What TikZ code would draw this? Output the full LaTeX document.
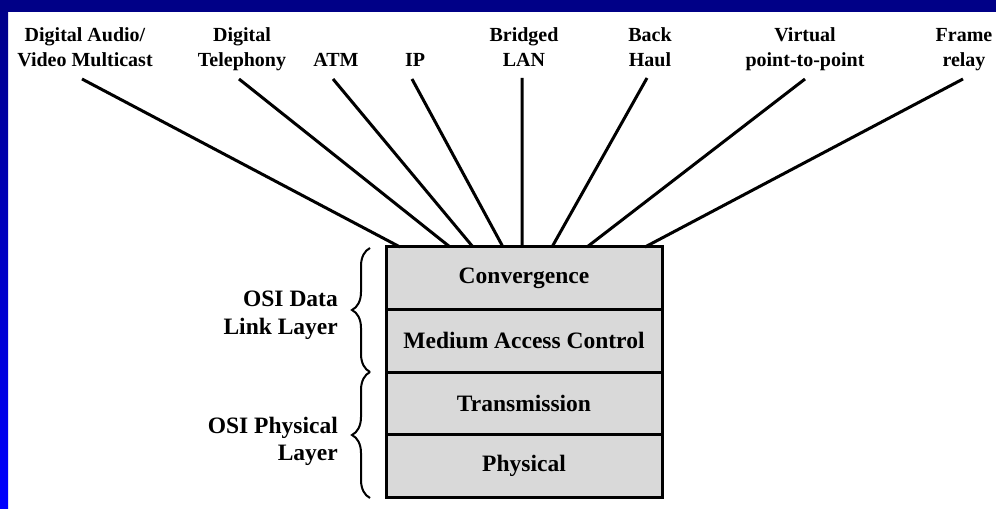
\documentclass[tikz,border=0pt]{standalone}
\usepackage{fontspec}
\setmainfont{Liberation Serif}
\usetikzlibrary{calc,decorations.pathreplacing}
\definecolor{bandnavy}{RGB}{0,0,135}
\definecolor{bandblue}{RGB}{0,0,255}
\definecolor{layergray}{RGB}{217,217,217}
\begin{document}
\begin{tikzpicture}[x=1bp,y=-1bp,
  toplab/.style={font=\fontsize{20bp}{25bp}\selectfont\bfseries, inner sep=0pt, anchor=base},
  sidelab/.style={font=\fontsize{23.5bp}{28bp}\selectfont\bfseries, inner sep=0pt, anchor=base east},
  layer/.style={draw, line width=3bp, fill=layergray, minimum width=276bp, minimum height=62.5bp,
    inner sep=0pt, outer sep=0pt, anchor=north, font=\fontsize{23.5bp}{28bp}\selectfont\bfseries},
  conn/.style={line width=3bp},
  brc/.style={decorate, decoration={brace, amplitude=18bp}, line width=2bp}]
\useasboundingbox (0,0) rectangle (996,509);
% background
\fill[white] (0,0) rectangle (996,509);
\shade[top color=bandnavy, bottom color=bandblue] (0,0) rectangle (8,509);
\fill[bandnavy] (0,0) rectangle (996,12);
% layers
\node[layer] (conv) at (524,247) {Convergence};
\node[layer] (mac) at (conv.south) {Medium Access Control};
\node[layer] (trans) at (mac.south) {Transmission};
\node[layer] (phys) at (trans.south) {Physical};
% top labels
\node[toplab] (da1) at (85,42) {Digital Audio/};
\node[toplab] (da2) at (85,67) {Video Multicast};
\node[toplab] (dt1) at (242,42) {Digital};
\node[toplab] (dt2) at (242,67) {Telephony};
\node[toplab] (atm) at (336,67) {ATM};
\node[toplab] (ip) at (415,67) {IP};
\node[toplab] (bl1) at (524,42) {Bridged};
\node[toplab] (bl2) at (524,67) {LAN};
\node[toplab] (bh1) at (650,42) {Back};
\node[toplab] (bh2) at (650,67) {Haul};
\node[toplab] (vp1) at (805,42) {Virtual};
\node[toplab] (vp2) at (805,67) {point-to-point};
\node[toplab] (fr1) at (964,42) {Frame};
\node[toplab] (fr2) at (964,67) {relay};
% connector ends
\coordinate (t1) at (82,79);
\coordinate (t2) at (239,79);
\coordinate (t3) at (333,79);
\coordinate (t4) at (412,79);
\coordinate (t5) at (522,78);
\coordinate (t6) at (647,78);
\coordinate (t7) at (805,79);
\coordinate (t8) at (963,79);
\coordinate (b1) at ($(conv.north west)+(14,0)$);
\coordinate (b2) at ($(conv.north west)+(64,0)$);
\coordinate (b3) at ($(conv.north west)+(87,0)$);
\coordinate (b4) at ($(conv.north west)+(117,0)$);
\coordinate (b5) at ($(conv.north west)+(136,0)$);
\coordinate (b6) at ($(conv.north west)+(166,0)$);
\coordinate (b7) at ($(conv.north west)+(201,0)$);
\coordinate (b8) at ($(conv.north west)+(259,0)$);
\foreach \i in {1,...,8} {\draw[conn] (t\i) -- (b\i);}
% side labels
\node[sidelab] (osid1) at (338,307) {OSI Data};
\node[sidelab] (osid2) at (338,335) {Link Layer};
\node[sidelab] (osip1) at (338,433) {OSI Physical};
\node[sidelab] (osip2) at (338,460) {Layer};
% braces
\coordinate (br0) at ($(conv.north west)+(-16,1)$);
\coordinate (br1) at ($(mac.south west)+(-16,0)$);
\coordinate (br2) at ($(phys.south west)+(-16,1)$);
\draw[brc] (br1) -- (br0);
\draw[brc] (br2) -- (br1);
\end{tikzpicture}
\end{document}
